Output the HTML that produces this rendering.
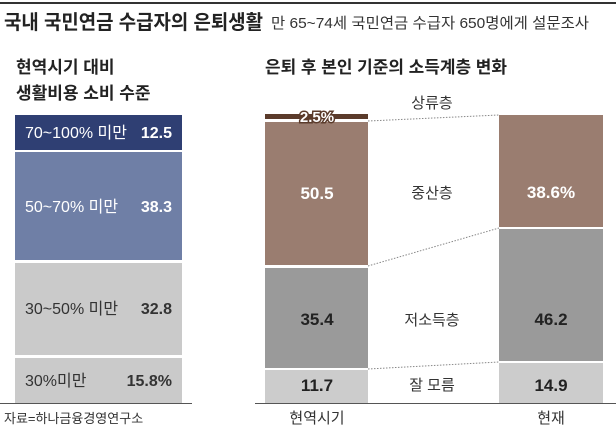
<!DOCTYPE html><html><head><meta charset="utf-8"><style>
body{margin:0;background:#fff;}
svg text{font-family:"Liberation Sans","Noto Sans CJK KR",sans-serif;}
</style></head><body>
<svg width="616" height="427" xmlns="http://www.w3.org/2000/svg">
<rect x="0" y="2" width="616" height="2" fill="#333"/>
<text x="4" y="29" font-size="20" font-weight="bold" fill="#222" textLength="259" lengthAdjust="spacingAndGlyphs">국내 국민연금 수급자의 은퇴생활</text>
<text x="271" y="28" font-size="15" fill="#333" textLength="318" lengthAdjust="spacingAndGlyphs">만 65~74세 국민연금 수급자 650명에게 설문조사</text>
<text x="16" y="73" font-size="17" font-weight="bold" fill="#222">현역시기 대비</text>
<text x="16" y="99" font-size="17" font-weight="bold" fill="#222">생활비용 소비 수준</text>
<text x="265" y="73" font-size="17" font-weight="bold" fill="#222" textLength="242" lengthAdjust="spacingAndGlyphs">은퇴 후 본인 기준의 소득계층 변화</text>
<rect x="15" y="115" width="167" height="35" fill="#2f3f73"/>
<rect x="15" y="152" width="167" height="108" fill="#6f7fa6"/>
<rect x="15" y="263" width="167" height="92" fill="#cacaca"/>
<rect x="15" y="358" width="167" height="45" fill="#cacaca"/>
<rect x="0" y="403" width="192" height="1" fill="#555"/>
<g font-size="16" fill="#fff">
<text x="25" y="138">70~100% 미만</text><text x="172" y="138" text-anchor="end" font-weight="bold">12.5</text>
<text x="25" y="212">50~70% 미만</text><text x="172" y="212" text-anchor="end" font-weight="bold">38.3</text>
</g>
<g font-size="16" fill="#333">
<text x="25" y="314">30~50% 미만</text><text x="172" y="314" text-anchor="end" font-weight="bold">32.8</text>
<text x="25" y="386">30%미만</text><text x="172" y="386" text-anchor="end" font-weight="bold">15.8%</text>
</g>
<text x="4" y="423" font-size="13" fill="#333">자료=하나금융경영연구소</text>
<rect x="265" y="114" width="103" height="5" fill="#5b3b2b"/>
<rect x="265" y="122" width="103" height="143" fill="#9a7d70"/>
<rect x="265" y="268" width="103" height="100" fill="#9a9a9a"/>
<rect x="265" y="370" width="103" height="33" fill="#cccccc"/>
<rect x="499" y="115" width="104" height="112" fill="#9a7d70"/>
<rect x="499" y="229" width="104" height="132" fill="#9a9a9a"/>
<rect x="499" y="363" width="104" height="40" fill="#cccccc"/>
<rect x="255" y="403" width="361" height="1" fill="#555"/>
<g stroke="#888" stroke-dasharray="1.5,1.5" stroke-width="1">
<line x1="368" y1="121" x2="499" y2="115"/>
<line x1="368" y1="266" x2="499" y2="228"/>
<line x1="368" y1="369" x2="499" y2="362"/>
</g>
<text x="317" y="122" font-size="15" font-weight="bold" fill="#fff" stroke="#5b3b2b" stroke-width="3" paint-order="stroke" text-anchor="middle">2.5%</text>
<g font-size="17" font-weight="bold" text-anchor="middle">
<text x="317" y="199" fill="#fff">50.5</text>
<text x="551" y="198" fill="#fff">38.6%</text>
<text x="317" y="325" fill="#222">35.4</text>
<text x="551" y="325" fill="#222">46.2</text>
<text x="317" y="391" fill="#222">11.7</text>
<text x="551" y="391" fill="#222">14.9</text>
</g>
<g font-size="15" fill="#333" text-anchor="middle">
<text x="432" y="108">상류층</text>
<text x="432" y="198">중산층</text>
<text x="432" y="325">저소득층</text>
<text x="432" y="390">잘 모름</text>
<text x="317" y="423">현역시기</text>
<text x="551" y="423">현재</text>
</g>
</svg></body></html>
